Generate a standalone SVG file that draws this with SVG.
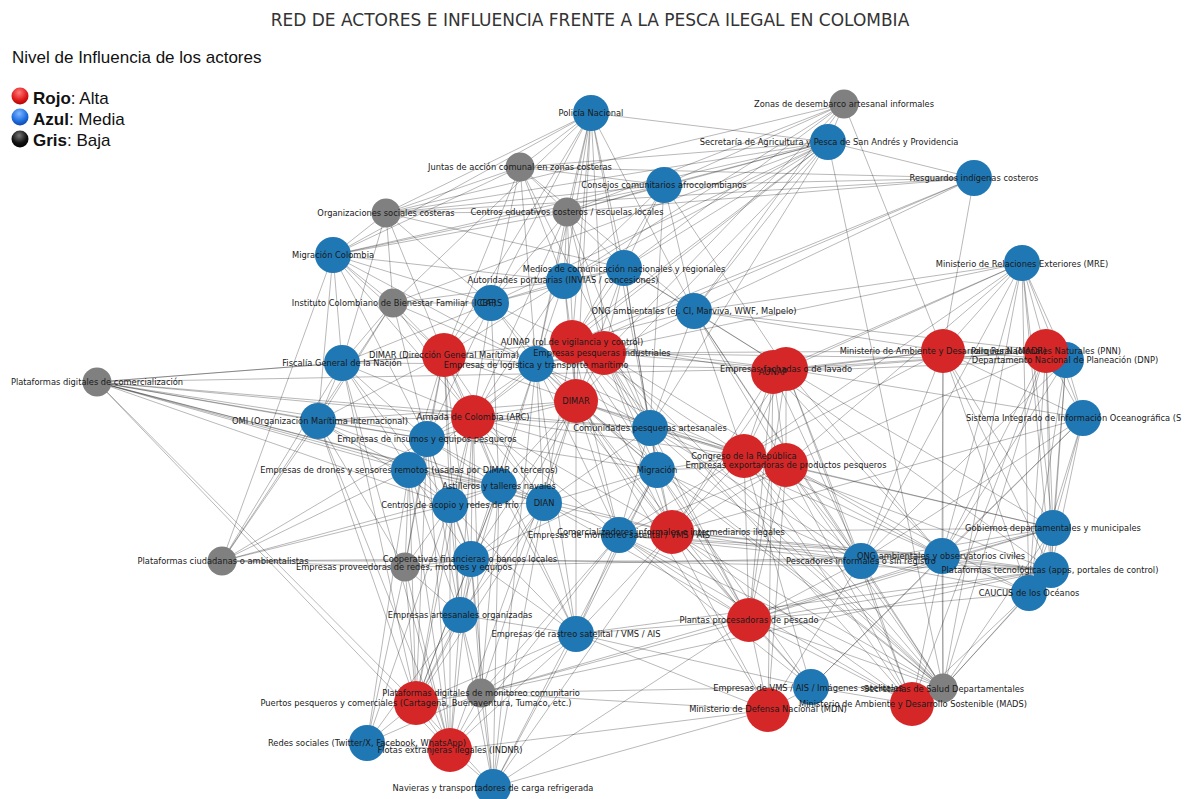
<svg xmlns="http://www.w3.org/2000/svg" width="1194" height="799" viewBox="0 0 1194 799">
<defs>
<radialGradient id="gr" cx="0.45" cy="0.3" r="0.75"><stop offset="0" stop-color="#ff7a7a"/><stop offset="0.6" stop-color="#e01b1b"/><stop offset="1" stop-color="#a30000"/></radialGradient>
<radialGradient id="gb" cx="0.45" cy="0.3" r="0.75"><stop offset="0" stop-color="#7fb8ff"/><stop offset="0.6" stop-color="#1f6fe0"/><stop offset="1" stop-color="#0a3f9e"/></radialGradient>
<radialGradient id="gk" cx="0.45" cy="0.3" r="0.75"><stop offset="0" stop-color="#777"/><stop offset="0.6" stop-color="#111"/><stop offset="1" stop-color="#000"/></radialGradient>
</defs>
<style>
.e{fill:none;stroke:#000;stroke-opacity:.28;stroke-width:1}
.b{fill:#1f77b4}.r{fill:#d62728}.g{fill:#808080}
.l{font-family:"DejaVu Sans",sans-serif;font-size:8.3px;fill:#1a1a1a;text-anchor:middle}
.lg{font-family:"Liberation Sans",Arial,sans-serif;font-size:17px;fill:#111}
</style>
<rect width="1194" height="799" fill="#fff"/>
<text x="590" y="26" font-family="DejaVu Sans, sans-serif" font-size="17" fill="#333" text-anchor="middle">RED DE ACTORES E INFLUENCIA FRENTE A LA PESCA ILEGAL EN COLOMBIA</text>
<g id="legend">
<text class="lg" x="12" y="63">Nivel de Influencia de los actores</text>
<circle cx="20" cy="96" r="8.5" fill="url(#gr)"/>
<circle cx="20" cy="117" r="8.5" fill="url(#gb)"/>
<circle cx="20" cy="139" r="8.5" fill="url(#gk)"/>
<text class="lg" x="33" y="104"><tspan font-weight="bold">Rojo</tspan>: Alta</text>
<text class="lg" x="33" y="125"><tspan font-weight="bold">Azul</tspan>: Media</text>
<text class="lg" x="33" y="146"><tspan font-weight="bold">Gris</tspan>: Baja</text>
</g>
<g id="connectors">
<path class="e" d="M591 113L520 167M591 113L386 213M591 113L333 255M591 113L567 212M591 113L564 281M591 113L624 268M591 113L491 303M591 113L572 342M591 113L604 353M591 113L444 355M591 113L536 364M591 113L576 401M591 113L650 428M591 113L694 311M591 113L828 142M591 113L393 303"/>
<path class="e" d="M844 104L828 142M844 104L664 185M844 104L624 268M844 104L564 281M844 104L694 311M844 104L943 351M844 104L604 353M844 104L567 212M844 104L386 213"/>
<path class="e" d="M828 142L664 185M828 142L974 178M828 142L624 268M828 142L564 281M828 142L567 212M828 142L520 167M828 142L386 213M828 142L333 255M828 142L491 303M828 142L536 364M828 142L572 342M828 142L694 311M828 142L943 688M828 142L576 401M828 142L650 428M828 142L393 303"/>
<path class="e" d="M520 167L386 213M520 167L567 212M520 167L333 255M520 167L491 303M520 167L564 281M520 167L536 364M520 167L694 311M520 167L650 428M520 167L664 185M520 167L444 355"/>
<path class="e" d="M664 185L974 178M664 185L567 212M664 185L386 213M664 185L624 268M664 185L564 281M664 185L694 311M664 185L650 428M664 185L572 342M664 185L333 255M664 185L786 369"/>
<path class="e" d="M974 178L567 212M974 178L386 213M974 178L520 167M974 178L694 311M974 178L572 342M974 178L536 364M974 178L943 351"/>
<path class="e" d="M386 213L567 212M386 213L333 255M386 213L393 303M386 213L491 303M386 213L342 363M386 213L444 355M386 213L624 268"/>
<path class="e" d="M567 212L333 255M567 212L624 268M567 212L564 281M567 212L491 303M567 212L536 364M567 212L604 353M567 212L576 401M567 212L650 428M567 212L473 417"/>
<path class="e" d="M333 255L393 303M333 255L491 303M333 255L342 363M333 255L444 355M333 255L536 364M333 255L564 281M333 255L473 417M333 255L318 421M333 255L427 439"/>
<path class="e" d="M624 268L564 281M624 268L491 303M624 268L572 342M624 268L604 353M624 268L694 311M624 268L576 401M624 268L650 428M624 268L657 470M624 268L786 369"/>
<path class="e" d="M564 281L491 303M564 281L393 303M564 281L572 342M564 281L444 355M564 281L536 364M564 281L473 417M564 281L576 401"/>
<path class="e" d="M1022 263L943 351M1022 263L1046 351M1022 263L1066 360M1022 263L1083 418M1022 263L1053 528M1022 263L1051 570M1022 263L1029 593M1022 263L942 556M1022 263L786 369M1022 263L773 372M1022 263L744 456M1022 263L786 465M1022 263L694 311M1022 263L536 364M1022 263L943 688M1022 263L861 561"/>
<path class="e" d="M393 303L491 303M393 303L342 363M393 303L444 355M393 303L536 364M393 303L473 417M393 303L318 421M393 303L427 439"/>
<path class="e" d="M491 303L342 363M491 303L444 355M491 303L536 364M491 303L572 342M491 303L576 401M491 303L473 417M491 303L427 439M491 303L499 486"/>
<path class="e" d="M694 311L572 342M694 311L604 353M694 311L786 369M694 311L943 351M694 311L1046 351M694 311L650 428M694 311L744 456M694 311L786 465M694 311L943 688M694 311L861 561"/>
<path class="e" d="M572 342L604 353M572 342L536 364M572 342L444 355M572 342L576 401M572 342L473 417M572 342L650 428M572 342L786 369M572 342L773 372M572 342L744 456M572 342L657 470M572 342L672 532M572 342L619 535M572 342L544 503M572 342L943 688"/>
<path class="e" d="M604 353L536 364M604 353L576 401M604 353L650 428M604 353L786 369M604 353L943 351M604 353L1066 360M604 353L786 465M604 353L657 470M604 353L672 532M604 353L749 620M604 353L943 688M604 353L912 704"/>
<path class="e" d="M444 355L342 363M444 355L536 364M444 355L473 417M444 355L318 421M444 355L427 439M444 355L409 470M444 355L576 401M444 355L450 505M444 355L499 486M444 355L544 503M444 355L471 559M444 355L405 567M444 355L460 615"/>
<path class="e" d="M342 363L536 364M342 363L318 421M342 363L473 417M342 363L427 439M342 363L409 470M342 363L450 505M342 363L416 703M342 363L450 750"/>
<path class="e" d="M536 364L576 401M536 364L473 417M536 364L650 428M536 364L427 439M536 364L499 486M536 364L544 503M536 364L657 470M536 364L786 369M536 364L744 456M536 364L672 532M536 364L619 535M536 364L576 634M536 364L471 559M536 364L493 787"/>
<path class="e" d="M786 369L773 372M786 369L943 351M786 369L1046 351M786 369L744 456M786 369L786 465M786 369L672 532M786 369L749 620M786 369L861 561M786 369L942 556M786 369L1053 528M786 369L1083 418M786 369L912 704"/>
<path class="e" d="M773 372L943 351M773 372L1046 351M773 372L1066 360M773 372L744 456M773 372L786 465M773 372L672 532M773 372L749 620M773 372L861 561M773 372L942 556M773 372L1051 570M773 372L768 710"/>
<path class="e" d="M943 351L1046 351M943 351L1066 360M943 351L1083 418M943 351L1053 528M943 351L1051 570M943 351L942 556M943 351L1029 593M943 351L744 456M943 351L861 561M943 351L943 688"/>
<path class="e" d="M1046 351L1066 360M1046 351L1083 418M1046 351L1053 528M1046 351L1051 570M1046 351L942 556M1046 351L1029 593M1046 351L912 704M1046 351L943 688M1046 351L786 465"/>
<path class="e" d="M1066 360L1083 418M1066 360L1053 528M1066 360L1051 570M1066 360L1029 593M1066 360L942 556M1066 360L861 561"/>
<path class="e" d="M1083 418L1053 528M1083 418L1051 570M1083 418L1029 593M1083 418L942 556M1083 418L861 561M1083 418L811 687M1083 418L672 532"/>
<path class="e" d="M318 421L473 417M318 421L427 439M318 421L409 470M318 421L450 505M318 421L499 486M318 421L576 401M318 421L416 703M318 421L450 750M318 421L405 567"/>
<path class="e" d="M473 417L576 401M473 417L427 439M473 417L409 470M473 417L450 505M473 417L499 486M473 417L544 503M473 417L650 428M473 417L657 470M473 417L672 532M473 417L619 535M473 417L471 559M473 417L460 615M473 417L576 634M473 417L416 703M473 417L481 693M473 417L744 456"/>
<path class="e" d="M576 401L650 428M576 401L427 439M576 401L499 486M576 401L544 503M576 401L657 470M576 401L744 456M576 401L786 465M576 401L672 532M576 401L619 535M576 401L749 620M576 401L576 634M576 401L471 559M576 401L416 703M576 401L450 750M576 401L943 688M576 401L768 710"/>
<path class="e" d="M650 428L657 470M650 428L744 456M650 428L786 465M650 428L672 532M650 428L619 535M650 428L544 503M650 428L749 620M650 428L861 561M650 428L942 556M650 428L943 688"/>
<path class="e" d="M427 439L409 470M427 439L450 505M427 439L499 486M427 439L544 503M427 439L471 559M427 439L405 567M427 439L460 615M427 439L416 703M427 439L450 750"/>
<path class="e" d="M744 456L786 465M744 456L657 470M744 456L672 532M744 456L619 535M744 456L749 620M744 456L861 561M744 456L942 556M744 456L1053 528M744 456L1051 570M744 456L912 704M744 456L943 688M744 456L811 687"/>
<path class="e" d="M786 465L657 470M786 465L672 532M786 465L619 535M786 465L749 620M786 465L861 561M786 465L942 556M786 465L1053 528M786 465L1029 593M786 465L912 704M786 465L943 688M786 465L768 710"/>
<path class="e" d="M657 470L672 532M657 470L619 535M657 470L544 503M657 470L749 620M657 470L576 634M657 470L861 561M657 470L471 559M657 470L943 688M657 470L811 687M657 470L493 787"/>
<path class="e" d="M409 470L450 505M409 470L499 486M409 470L544 503M409 470L471 559M409 470L405 567M409 470L460 615M409 470L416 703M409 470L450 750M409 470L367 743"/>
<path class="e" d="M499 486L450 505M499 486L544 503M499 486L471 559M499 486L460 615M499 486L576 634M499 486L416 703M499 486L481 693M499 486L493 787"/>
<path class="e" d="M450 505L544 503M450 505L471 559M450 505L405 567M450 505L460 615M450 505L576 634M450 505L416 703M450 505L450 750M450 505L367 743"/>
<path class="e" d="M544 503L672 532M544 503L619 535M544 503L471 559M544 503L460 615M544 503L576 634M544 503L416 703M544 503L481 693M544 503L493 787M544 503L749 620"/>
<path class="e" d="M672 532L619 535M672 532L749 620M672 532L576 634M672 532L861 561M672 532L942 556M672 532L1053 528M672 532L1051 570M672 532L912 704M672 532L943 688M672 532L768 710M672 532L811 687M672 532L493 787"/>
<path class="e" d="M619 535L749 620M619 535L576 634M619 535L861 561M619 535L942 556M619 535L1051 570M619 535L943 688M619 535L912 704M619 535L811 687M619 535L481 693M619 535L450 750"/>
<path class="e" d="M1053 528L1051 570M1053 528L1029 593M1053 528L942 556M1053 528L861 561M1053 528L749 620M1053 528L943 688"/>
<path class="e" d="M222 561L333 255M222 561L342 363M222 561L393 303M222 561L409 470M222 561L427 439M222 561L318 421M222 561L450 505M222 561L471 559M222 561L405 567M222 561L499 486M222 561L861 561"/>
<path class="e" d="M97 382L342 363M97 382L444 355M97 382L786 369M97 382L318 421M97 382L473 417M97 382L427 439M97 382L409 470M97 382L450 505M97 382L499 486M97 382L544 503M97 382L650 428M97 382L657 470M97 382L672 532M97 382L416 703M97 382L450 750"/>
<path class="e" d="M471 559L405 567M471 559L460 615M471 559L576 634M471 559L416 703M471 559L450 750M471 559L481 693M471 559L493 787M471 559L1051 570"/>
<path class="e" d="M405 567L460 615M405 567L416 703M405 567L450 750M405 567L367 743M405 567L942 556"/>
<path class="e" d="M942 556L861 561M942 556L1051 570M942 556L1029 593M942 556L749 620M942 556L912 704M942 556L943 688M942 556L811 687"/>
<path class="e" d="M861 561L1051 570M861 561L1029 593M861 561L749 620M861 561L912 704M861 561L943 688M861 561L768 710"/>
<path class="e" d="M1051 570L1029 593M1051 570L749 620M1051 570L576 634M1051 570L943 688"/>
<path class="e" d="M1029 593L749 620M1029 593L943 688M1029 593L912 704"/>
<path class="e" d="M460 615L576 634M460 615L416 703M460 615L450 750M460 615L481 693M460 615L367 743M460 615L493 787"/>
<path class="e" d="M749 620L576 634M749 620L811 687M749 620L768 710M749 620L912 704M749 620L943 688M749 620L481 693M749 620L493 787"/>
<path class="e" d="M576 634L481 693M576 634L416 703M576 634L450 750M576 634L493 787M576 634L768 710M576 634L811 687"/>
<path class="e" d="M811 687L768 710M811 687L943 688M811 687L912 704M811 687L481 693"/>
<path class="e" d="M943 688L912 704M768 710L481 693M768 710L450 750M768 710L493 787"/>
<path class="e" d="M481 693L416 703M481 693L450 750M481 693L367 743M481 693L493 787M481 693L1051 570M481 693L1053 528"/>
<path class="e" d="M416 703L367 743M416 703L450 750M416 703L493 787M367 743L450 750M450 750L493 787"/>
</g>
<g id="nodes">
<g id="n-policia"><circle class="b" cx="591" cy="113" r="18"/></g>
<g id="n-zonas"><circle class="g" cx="844" cy="104" r="14.5"/></g>
<g id="n-secretaria-agricultura"><circle class="b" cx="828" cy="142" r="18"/></g>
<g id="n-juntas"><circle class="g" cx="520" cy="167" r="14.5"/></g>
<g id="n-consejos"><circle class="b" cx="664" cy="185" r="18"/></g>
<g id="n-resguardos"><circle class="b" cx="974" cy="178" r="18"/></g>
<g id="n-org-sociales"><circle class="g" cx="386" cy="213" r="14.5"/></g>
<g id="n-centros-educativos"><circle class="g" cx="567" cy="212" r="14.5"/></g>
<g id="n-migracion-colombia"><circle class="b" cx="333" cy="255" r="18"/></g>
<g id="n-medios"><circle class="b" cx="624" cy="268" r="18"/></g>
<g id="n-autoridades"><circle class="b" cx="564" cy="281" r="18"/></g>
<g id="n-mre"><circle class="b" cx="1022" cy="263" r="18"/></g>
<g id="n-icbf"><circle class="g" cx="393" cy="303" r="14.5"/></g>
<g id="n-cars"><circle class="b" cx="491" cy="303" r="18"/></g>
<g id="n-ong-ej"><circle class="b" cx="694" cy="311" r="18"/></g>
<g id="n-aunap-vigilancia"><circle class="r" cx="572" cy="342" r="22"/></g>
<g id="n-pesqueras-industriales"><circle class="r" cx="604" cy="353" r="22"/></g>
<g id="n-dimar-dgm"><circle class="r" cx="444" cy="355" r="22"/></g>
<g id="n-fiscalia"><circle class="b" cx="342" cy="363" r="18"/></g>
<g id="n-logistica"><circle class="b" cx="536" cy="364" r="18"/></g>
<g id="n-plat-comercializacion"><circle class="g" cx="97" cy="382" r="14.5"/></g>
<g id="n-aunap"><circle class="r" cx="773" cy="372" r="22"/></g>
<g id="n-fachadas"><circle class="r" cx="786" cy="369" r="22"/></g>
<g id="n-madr"><circle class="r" cx="943" cy="351" r="22"/></g>
<g id="n-dnp"><circle class="b" cx="1066" cy="360" r="18"/></g>
<g id="n-pnn"><circle class="r" cx="1046" cy="351" r="22"/></g>
<g id="n-sioc"><circle class="b" cx="1083" cy="418" r="18"/></g>
<g id="n-omi"><circle class="b" cx="318" cy="421" r="18"/></g>
<g id="n-armada"><circle class="r" cx="473" cy="417" r="22"/></g>
<g id="n-dimar"><circle class="r" cx="576" cy="401" r="22"/></g>
<g id="n-comunidades"><circle class="b" cx="650" cy="428" r="18"/></g>
<g id="n-insumos"><circle class="b" cx="427" cy="439" r="18"/></g>
<g id="n-congreso"><circle class="r" cx="744" cy="456" r="22"/></g>
<g id="n-exportadoras"><circle class="r" cx="786" cy="465" r="22"/></g>
<g id="n-migracion"><circle class="b" cx="657" cy="470" r="18"/></g>
<g id="n-drones"><circle class="b" cx="409" cy="470" r="18"/></g>
<g id="n-astilleros"><circle class="b" cx="499" cy="486" r="18"/></g>
<g id="n-acopio"><circle class="b" cx="450" cy="505" r="18"/></g>
<g id="n-dian"><circle class="b" cx="544" cy="503" r="18"/></g>
<g id="n-monitoreo"><circle class="b" cx="619" cy="535" r="18"/></g>
<g id="n-comercializadores"><circle class="r" cx="672" cy="532" r="22"/></g>
<g id="n-gobiernos"><circle class="b" cx="1053" cy="528" r="18"/></g>
<g id="n-plat-ciudadanas"><circle class="g" cx="222" cy="561" r="14.5"/></g>
<g id="n-cooperativas"><circle class="b" cx="471" cy="559" r="18"/></g>
<g id="n-proveedoras"><circle class="g" cx="405" cy="567" r="14.5"/></g>
<g id="n-ong-observatorios"><circle class="b" cx="942" cy="556" r="18"/></g>
<g id="n-pescadores"><circle class="b" cx="861" cy="561" r="18"/></g>
<g id="n-plat-tecnologicas"><circle class="b" cx="1051" cy="570" r="18"/></g>
<g id="n-caucus"><circle class="b" cx="1029" cy="593" r="18"/></g>
<g id="n-artesanales"><circle class="b" cx="460" cy="615" r="18"/></g>
<g id="n-plantas"><circle class="r" cx="749" cy="620" r="22"/></g>
<g id="n-rastreo"><circle class="b" cx="576" cy="634" r="18"/></g>
<g id="n-vms"><circle class="b" cx="811" cy="687" r="18"/></g>
<g id="n-mdn"><circle class="r" cx="768" cy="710" r="22"/></g>
<g id="n-mads"><circle class="r" cx="912" cy="704" r="22"/></g>
<g id="n-secretarias-salud"><circle class="g" cx="943" cy="688" r="14.5"/></g>
<g id="n-plat-monitoreo"><circle class="g" cx="481" cy="693" r="14.5"/></g>
<g id="n-puertos"><circle class="r" cx="416" cy="703" r="22"/></g>
<g id="n-redes"><circle class="b" cx="367" cy="743" r="18"/></g>
<g id="n-flotas"><circle class="r" cx="450" cy="750" r="22"/></g>
<g id="n-navieras"><circle class="b" cx="493" cy="787" r="18"/></g>
</g>
<g id="labels">
<text class="l" x="591" y="116">Policía Nacional</text>
<text class="l" x="844" y="107">Zonas de desembarco artesanal informales</text>
<text class="l" x="829" y="145">Secretaría de Agricultura y Pesca de San Andrés y Providencia</text>
<text class="l" x="520" y="170">Juntas de acción comunal en zonas costeras</text>
<text class="l" x="664" y="188">Consejos comunitarios afrocolombianos</text>
<text class="l" x="974" y="181">Resguardos indígenas costeros</text>
<text class="l" x="386" y="216">Organizaciones sociales costeras</text>
<text class="l" x="567" y="215">Centros educativos costeros / escuelas locales</text>
<text class="l" x="333" y="258">Migración Colombia</text>
<text class="l" x="624" y="272">Medios de comunicación nacionales y regionales</text>
<text class="l" x="563" y="283">Autoridades portuarias (INVIAS / concesiones)</text>
<text class="l" x="1022" y="267">Ministerio de Relaciones Exteriores (MRE)</text>
<text class="l" x="394" y="306">Instituto Colombiano de Bienestar Familiar (ICBF)</text>
<text class="l" x="491" y="306">CARS</text>
<text class="l" x="694" y="314">ONG ambientales (ej. CI, Marviva, WWF, Malpelo)</text>
<text class="l" x="572" y="345">AUNAP (rol de vigilancia y control)</text>
<text class="l" x="602" y="356">Empresas pesqueras industriales</text>
<text class="l" x="444" y="358">DIMAR (Dirección General Marítima)</text>
<text class="l" x="342" y="366">Fiscalía General de la Nación</text>
<text class="l" x="536" y="368">Empresas de logística y transporte marítimo</text>
<text class="l" x="97" y="385">Plataformas digitales de comercialización</text>
<text class="l" x="786" y="372">Empresas fachadas o de lavado</text>
<text class="l" x="773" y="375">AUNAP</text>
<text class="l" x="943" y="354">Ministerio de Ambiente y Desarrollo Rural (MADR)</text>
<text class="l" x="1046" y="354">Parques Nacionales Naturales (PNN)</text>
<text class="l" x="1065" y="363">Departamento Nacional de Planeación (DNP)</text>
<text class="l" x="966" y="421" style="text-anchor:start">Sistema Integrado de Información Oceanográfica (S</text>
<text class="l" x="320" y="424">OMI (Organización Marítima Internacional)</text>
<text class="l" x="473" y="420">Armada de Colombia (ARC)</text>
<text class="l" x="576" y="404">DIMAR</text>
<text class="l" x="650" y="431">Comunidades pesqueras artesanales</text>
<text class="l" x="427" y="442">Empresas de insumos y equipos pesqueros</text>
<text class="l" x="744" y="459">Congreso de la República</text>
<text class="l" x="786" y="468">Empresas exportadoras de productos pesqueros</text>
<text class="l" x="657" y="473">Migración</text>
<text class="l" x="409" y="473">Empresas de drones y sensores remotos (usadas por DIMAR o terceros)</text>
<text class="l" x="499" y="489">Astilleros y talleres navales</text>
<text class="l" x="450" y="508">Centros de acopio y redes de frío</text>
<text class="l" x="544" y="506">DIAN</text>
<text class="l" x="671" y="535">Comercializadores informales o intermediarios ilegales</text>
<text class="l" x="619" y="538">Empresas de monitoreo satelital / VMS / AIS</text>
<text class="l" x="1053" y="531">Gobiernos departamentales y municipales</text>
<text class="l" x="223" y="564">Plataformas ciudadanas o ambientalistas</text>
<text class="l" x="470" y="562">Cooperativas financieras o bancos locales</text>
<text class="l" x="404" y="570">Empresas proveedoras de redes, motores y equipos</text>
<text class="l" x="941" y="559">ONG ambientales y observatorios civiles</text>
<text class="l" x="861" y="564">Pescadores informales o sin registro</text>
<text class="l" x="1050" y="573">Plataformas tecnológicas (apps, portales de control)</text>
<text class="l" x="1029" y="596">CAUCUS de los Océanos</text>
<text class="l" x="460" y="618">Empresas artesanales organizadas</text>
<text class="l" x="749" y="623">Plantas procesadoras de pescado</text>
<text class="l" x="576" y="637">Empresas de rastreo satelital / VMS / AIS</text>
<text class="l" x="808" y="691">Empresas de VMS / AIS / Imágenes satelitales</text>
<text class="l" x="944" y="692">Secretarías de Salud Departamentales</text>
<text class="l" x="913" y="707">Ministerio de Ambiente y Desarrollo Sostenible (MADS)</text>
<text class="l" x="768" y="712">Ministerio de Defensa Nacional (MDN)</text>
<text class="l" x="481" y="696">Plataformas digitales de monitoreo comunitario</text>
<text class="l" x="416" y="706">Puertos pesqueros y comerciales (Cartagena, Buenaventura, Tumaco, etc.)</text>
<text class="l" x="367" y="746">Redes sociales (Twitter/X, Facebook, WhatsApp)</text>
<text class="l" x="450" y="753">Flotas extranjeras ilegales (INDNR)</text>
<text class="l" x="493" y="791">Navieras y transportadores de carga refrigerada</text>
</g>
</svg>
